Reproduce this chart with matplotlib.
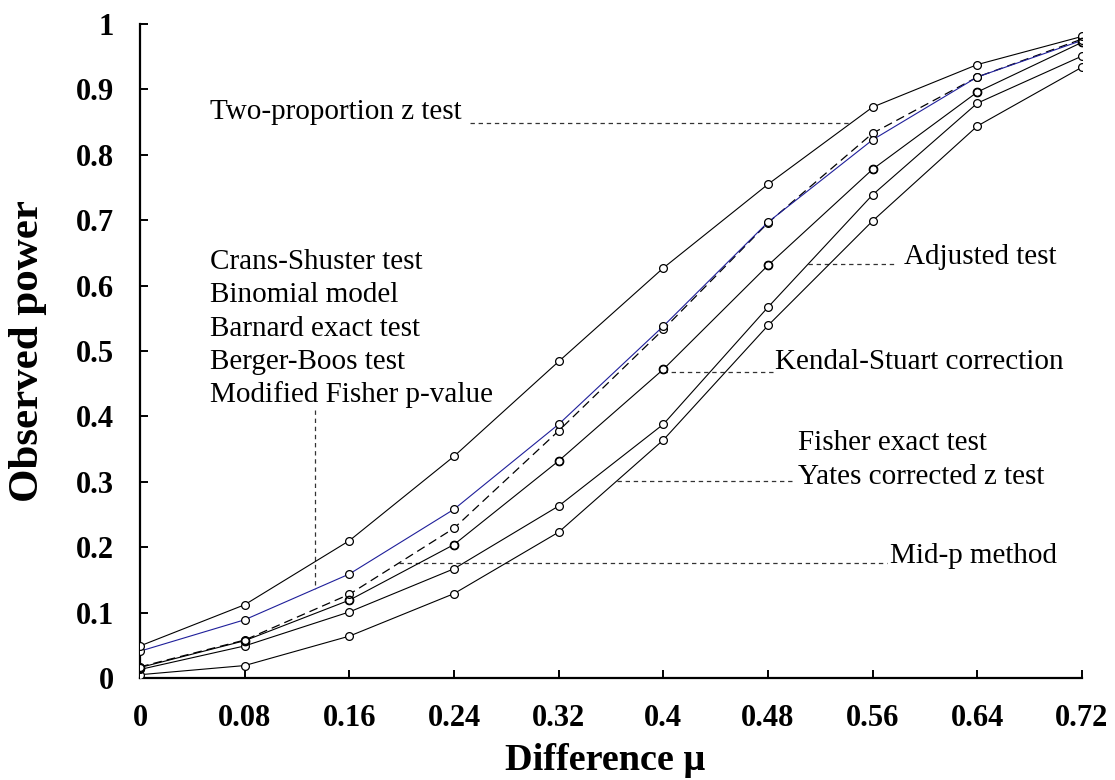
import numpy as np
import matplotlib
matplotlib.use("Agg")
import matplotlib.pyplot as plt

plt.rcParams["font.family"] = ["Liberation Serif", "DejaVu Serif"]

# Step 1: Data
diff_mu = [0, 0.08, 0.16, 0.24, 0.32, 0.4, 0.48, 0.56, 0.64, 0.72]
x_labels = ["0", "0.08", "0.16", "0.24", "0.32", "0.4", "0.48", "0.56", "0.64", "0.72"]
y_ticks = [0, 0.1, 0.2, 0.3, 0.4, 0.5, 0.6, 0.7, 0.8, 0.9, 1.0]
y_labels = ["0", "0.1", "0.2", "0.3", "0.4", "0.5", "0.6", "0.7", "0.8", "0.9", "1"]

two_prop = [0.049, 0.112, 0.210, 0.339, 0.484, 0.627, 0.755, 0.873, 0.938, 0.981]
crans_group = [0.041, 0.089, 0.159, 0.258, 0.388, 0.538, 0.697, 0.823, 0.919, 0.975]
mid_p = [0.017, 0.058, 0.128, 0.229, 0.378, 0.533, 0.696, 0.833, 0.919, 0.977]
kendal = [0.016, 0.057, 0.119, 0.204, 0.332, 0.472, 0.631, 0.778, 0.896, 0.972]
adjusted = [0.013, 0.049, 0.101, 0.167, 0.263, 0.388, 0.567, 0.739, 0.879, 0.951]
fisher = [0.005, 0.019, 0.064, 0.129, 0.223, 0.364, 0.539, 0.699, 0.844, 0.934]

crans_labels = ["Crans-Shuster test", "Binomial model", "Barnard exact test",
                "Berger-Boos test", "Modified Fisher p-value"]

# Step 2: Figure and axes
fig = plt.figure(figsize=(11.15, 7.8), dpi=100)
ax = fig.add_axes([0.1256, 0.1308, 0.8448, 0.8384])

mk = dict(marker="o", markersize=5.6, markerfacecolor="white",
          markeredgecolor="black", markeredgewidth=0.9, zorder=3)
ax.plot(diff_mu, fisher, color="black", lw=0.8, **mk)
ax.plot(diff_mu, adjusted, color="black", lw=0.8, **mk)
ax.plot(diff_mu, kendal, color="black", lw=0.8, **mk)
ax.plot(diff_mu, kendal, color="black", lw=0, marker="o", markersize=5.9,
        markerfacecolor="none", markeredgecolor="black", markeredgewidth=1.1, zorder=4)
ax.plot(diff_mu, mid_p, color="black", lw=0.9, dashes=(7, 4), **mk)
ax.plot(diff_mu, crans_group, color="#1f1f9a", lw=0.8, **mk)
ax.plot(diff_mu, two_prop, color="black", lw=0.8, **mk)

# Step 3: Annotations with dashed leaders
lead = dict(color="#333333", lw=0.9, ls=(0, (3.5, 3)), zorder=2)
txt = dict(fontsize=21, va="center", ha="left")

# Two-proportion z test
y_tp = 0.849
ax.plot([0.252, np.interp(y_tp, two_prop, diff_mu)], [y_tp, y_tp], **lead)
ax.text(0.0535, 0.865, "Two-proportion z test", **txt)

# left group -> blue line
for i, lab in enumerate(crans_labels):
    ax.text(0.0535, 0.636 - i * 0.0508, lab, **txt)
x_cg = 0.1338
ax.plot([x_cg, x_cg], [0.41, np.interp(x_cg, diff_mu, crans_group)], **lead)

# Adjusted test
y_adj = 0.633
ax.plot([np.interp(y_adj, adjusted, diff_mu), 0.578], [y_adj, y_adj], **lead)
ax.text(0.584, 0.644, "Adjusted test", **txt)

# Kendal-Stuart correction
y_ks = kendal[5] - 0.004
ax.plot([diff_mu[5], 0.4838], [y_ks, y_ks], **lead)
ax.text(0.4855, 0.483, "Kendal-Stuart correction", **txt)

# Fisher exact / Yates
y_fy = 0.301
ax.plot([np.interp(y_fy, fisher, diff_mu), 0.5006], [y_fy, y_fy], **lead)
ax.text(0.503, 0.359, "Fisher exact test", **txt)
ax.text(0.503, 0.307, "Yates corrected z test", **txt)

# Mid-p method
y_mp = 0.176
ax.plot([np.interp(y_mp, mid_p, diff_mu), 0.571], [y_mp, y_mp], **lead)
ax.text(0.573, 0.187, "Mid-p method", **txt)

# Step 4: Axes styling
ax.set_xlim(0, 0.72)
ax.set_ylim(0, 1)
ax.set_xticks(diff_mu)
ax.set_xticklabels(x_labels)
ax.set_yticks(y_ticks)
ax.set_yticklabels(y_labels)
for s in ["top", "right"]:
    ax.spines[s].set_visible(False)
for s in ["left", "bottom"]:
    ax.spines[s].set_linewidth(1.6)
ax.tick_params(direction="in", length=6, width=1.4, pad=19,
               labelsize=22)
for lab in ax.get_xticklabels() + ax.get_yticklabels():
    lab.set_fontweight("bold")

ax.set_xlabel("Difference μ", fontsize=27.5, fontweight="bold")
ax.set_ylabel("Observed power", fontsize=31, fontweight="bold")
ax.xaxis.set_label_coords(0.494, -0.1)
ax.yaxis.set_label_coords(-0.099, 0.5)

plt.savefig("out.png", dpi=100)
